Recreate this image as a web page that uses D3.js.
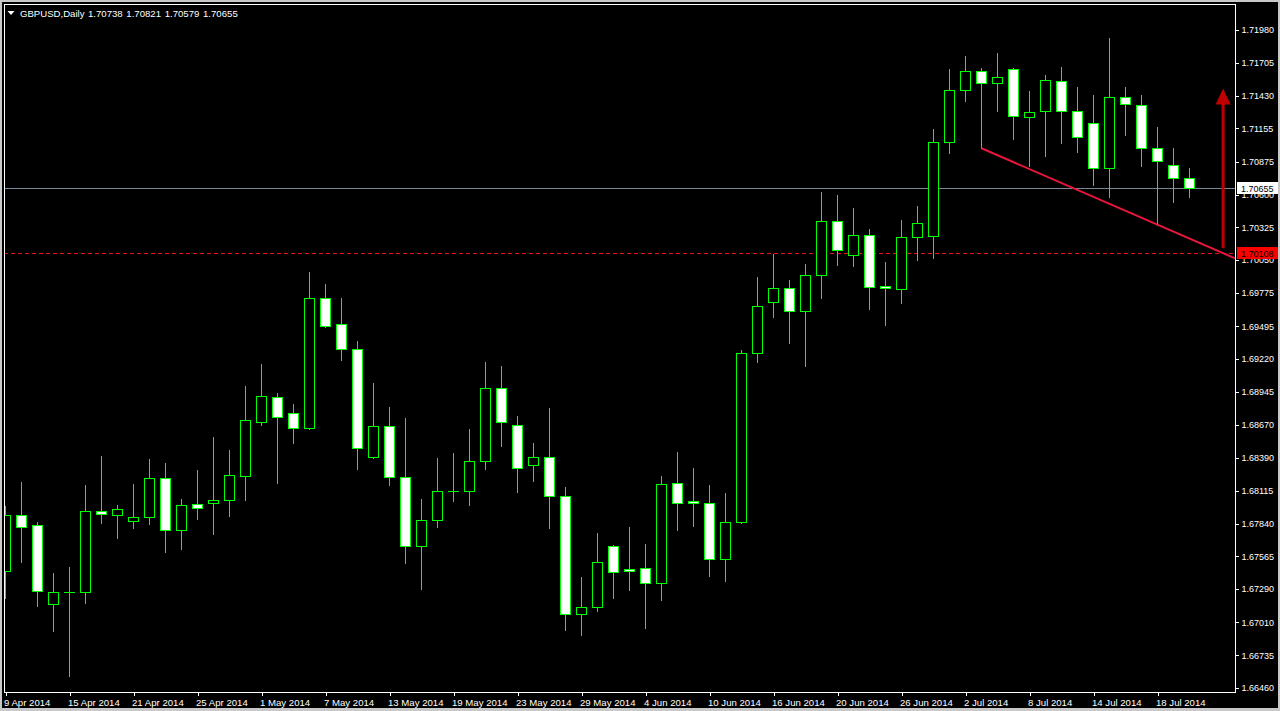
<!DOCTYPE html>
<html><head><meta charset="utf-8">
<script src="https://cdn.jsdelivr.net/npm/d3@7"></script>
<style>
html,body{margin:0;padding:0;background:#000;overflow:hidden}
svg{display:block}
text{font-family:"Liberation Sans",Arial,sans-serif;font-size:9px;fill:#fff}
</style>
</head><body><svg id="c" width="1280" height="711"></svg>
<script>
const symbolTitle = "GBPUSD,Daily";
const dates = [
"2014-04-09","2014-04-10","2014-04-11","2014-04-14","2014-04-15","2014-04-16","2014-04-17","2014-04-18","2014-04-21","2014-04-22","2014-04-23","2014-04-24","2014-04-25","2014-04-28","2014-04-29","2014-04-30",
"2014-05-01","2014-05-02","2014-05-05","2014-05-06","2014-05-07","2014-05-08","2014-05-09","2014-05-12","2014-05-13","2014-05-14","2014-05-15","2014-05-16","2014-05-19","2014-05-20","2014-05-21","2014-05-22","2014-05-23","2014-05-26","2014-05-27","2014-05-28","2014-05-29","2014-05-30",
"2014-06-02","2014-06-03","2014-06-04","2014-06-05","2014-06-06","2014-06-09","2014-06-10","2014-06-11","2014-06-12","2014-06-13","2014-06-16","2014-06-17","2014-06-18","2014-06-19","2014-06-20","2014-06-23","2014-06-24","2014-06-25","2014-06-26","2014-06-27","2014-06-30",
"2014-07-01","2014-07-02","2014-07-03","2014-07-04","2014-07-07","2014-07-08","2014-07-09","2014-07-10","2014-07-11","2014-07-14","2014-07-15","2014-07-16","2014-07-17","2014-07-18","2014-07-21","2014-07-22"];
const open = [1.67444,1.67909,1.67825,1.67167,1.67265,1.67263,1.67942,1.67909,1.67858,1.67892,1.68219,1.67783,1.68001,1.68010,1.68041,1.68241,1.68694,1.68899,1.68765,1.68644,1.69729,1.69511,1.69301,1.68400,1.68655,1.68228,1.67649,1.67867,1.68114,1.68110,1.68362,1.68974,1.68664,1.68328,1.68395,1.68068,1.67078,1.67137,1.67649,1.67456,1.67464,1.67338,1.68177,1.68026,1.68010,1.67540,1.67851,1.69268,1.69701,1.69814,1.69626,1.69921,1.70376,1.70095,1.70258,1.69830,1.69805,1.70241,1.70250,1.71038,1.71475,1.71634,1.71533,1.71651,1.71248,1.71298,1.71550,1.71298,1.71198,1.70820,1.71416,1.71349,1.70988,1.70845,1.70738];
const high = [1.67987,1.68188,1.67853,1.67422,1.67475,1.68163,1.68406,1.67995,1.68171,1.68381,1.68348,1.68046,1.68289,1.68566,1.68457,1.68994,1.69178,1.68935,1.68843,1.69950,1.69849,1.69732,1.69371,1.69019,1.68817,1.68725,1.68046,1.68390,1.68431,1.68633,1.69195,1.69161,1.68742,1.68515,1.68809,1.68146,1.67391,1.67760,1.67660,1.67811,1.67668,1.68239,1.68440,1.68306,1.68163,1.68096,1.69296,1.69908,1.70104,1.69883,1.70017,1.70621,1.70596,1.70487,1.70311,1.70034,1.70387,1.70504,1.71150,1.71653,1.71762,1.71662,1.71788,1.71662,1.71469,1.71603,1.71670,1.71502,1.71435,1.71913,1.71502,1.71435,1.71167,1.70991,1.70821];
const low = [1.67218,1.67517,1.67150,1.66941,1.66563,1.67176,1.67847,1.67721,1.67805,1.67838,1.67603,1.67629,1.67880,1.67754,1.67903,1.68037,1.68666,1.68182,1.68518,1.68635,1.69491,1.69214,1.68300,1.68392,1.68166,1.67511,1.67293,1.67813,1.68031,1.67998,1.68300,1.68493,1.68107,1.68199,1.67805,1.66949,1.66907,1.67108,1.67218,1.67285,1.66966,1.67198,1.67788,1.67822,1.67402,1.67360,1.67842,1.69198,1.69575,1.69357,1.69164,1.69735,1.70012,1.70003,1.69642,1.69508,1.69693,1.70054,1.70070,1.70951,1.71387,1.70988,1.71304,1.71069,1.70842,1.70926,1.71035,1.70960,1.70683,1.70582,1.71102,1.70842,1.70347,1.70540,1.70579];
const close = [1.67909,1.67813,1.67276,1.67263,1.67266,1.67942,1.67920,1.67959,1.67892,1.68219,1.67783,1.67993,1.67974,1.68035,1.68244,1.68706,1.68907,1.68731,1.68644,1.69729,1.69499,1.69306,1.68471,1.68655,1.68228,1.67649,1.67867,1.68110,1.68116,1.68362,1.68974,1.68689,1.68303,1.68395,1.68068,1.67078,1.67137,1.67515,1.67431,1.67439,1.67338,1.68169,1.68010,1.68010,1.67540,1.67850,1.69268,1.69663,1.69814,1.69626,1.69923,1.70376,1.70137,1.70258,1.69827,1.69814,1.70241,1.70359,1.71038,1.71475,1.71634,1.71533,1.71584,1.71257,1.71290,1.71559,1.71298,1.71085,1.70820,1.71416,1.71357,1.70988,1.70879,1.70736,1.70655];
const yTickLabels = ["1.71980","1.71705","1.71430","1.71155","1.70875","1.70600","1.70325","1.70050","1.69775","1.69495","1.69220","1.68945","1.68670","1.68390","1.68115","1.67840","1.67565","1.67290","1.67010","1.66735","1.66460"];
const dateTickIndex = [0,4,8,12,16,20,24,28,32,36,40,44,48,52,56,60,64,68,72];
const currentPrice = 1.70655;
const hLinePrice = 1.70108;
const trendAnchors = [61, 72];
const arrowBar = 76.1, arrowFrom = 1.70150, arrowTo = 1.71490;

const L = 4, T = 4, R = 1235, B = 692;
const svg = d3.select("#c");
const x = d3.scaleLinear().domain([0, 74]).range([5.5, 1189.5]);
const y = d3.scaleLinear().domain([1.66460, 1.71980]).range([688, 30.0]);
const parse = d3.timeParse("%Y-%m-%d"), fmt = d3.timeFormat("%-d %b %Y");
const f5 = d3.format(".5f");

// window frame
svg.append("rect").attr("width", 1280).attr("height", 711).attr("fill", "#c8c8c8");
svg.append("rect").attr("x", 2).attr("y", 2).attr("width", 1276).attr("height", 706).attr("fill", "#000");

svg.append("defs").append("clipPath").attr("id", "clip")
  .append("rect").attr("x", L + 1).attr("y", T + 1).attr("width", R - L - 1).attr("height", B - T - 1);

const plot = svg.append("g").attr("clip-path", "url(#clip)");
const green = "#00ff00";

// current price line
const cy = Math.round(y(currentPrice)) + 0.5;
plot.append("line").attr("x1", L).attr("x2", R).attr("y1", cy).attr("y2", cy)
  .attr("stroke", "#778899").attr("stroke-width", 1).attr("shape-rendering", "crispEdges");
// horizontal dashed line
const hy = Math.round(y(hLinePrice)) + 0.5;
plot.append("line").attr("x1", L).attr("x2", R).attr("y1", hy).attr("y2", hy)
  .attr("stroke", "#e81010").attr("stroke-dasharray", "4,3").attr("stroke-width", 1).attr("shape-rendering", "crispEdges");

// candles
const idx = d3.range(open.length);
const cg = plot.append("g").attr("shape-rendering", "crispEdges");
idx.forEach(i => {
  const cx = x(i);
  const yh = Math.round(y(high[i])), yl = Math.round(y(low[i]));
  cg.append("line").attr("x1", cx).attr("x2", cx).attr("y1", yh).attr("y2", yl + 1)
    .attr("stroke", green).attr("stroke-width", 1);
  const top = Math.round(y(Math.max(open[i], close[i])));
  const bot = Math.round(y(Math.min(open[i], close[i])));
  const bear = close[i] < open[i];
  if (bot - top < 1) {
    cg.append("line").attr("x1", cx - 5.5).attr("x2", cx + 5.5).attr("y1", top + 0.5).attr("y2", top + 0.5)
      .attr("stroke", green).attr("stroke-width", 1);
  } else {
    cg.append("rect").attr("x", cx - 5).attr("y", top + 0.5).attr("width", 10).attr("height", bot - top)
      .attr("fill", bear ? "#fff" : "#000").attr("stroke", green).attr("stroke-width", 1);
  }
});

// trend line through two lows, extended to the right edge
const p1 = [x(trendAnchors[0]), y(low[trendAnchors[0]])];
const p2 = [x(trendAnchors[1]), y(low[trendAnchors[1]])];
const t = (R - p1[0]) / (p2[0] - p1[0]);
plot.append("line").attr("x1", p1[0]).attr("y1", p1[1])
  .attr("x2", p1[0] + t * (p2[0] - p1[0])).attr("y2", p1[1] + t * (p2[1] - p1[1]))
  .attr("stroke", "#e8163c").attr("stroke-width", 2);

// arrow
const ax = x(arrowBar), ayTip = y(arrowTo), ayBase = y(arrowFrom);
plot.append("line").attr("x1", ax).attr("x2", ax).attr("y1", ayBase).attr("y2", ayTip + 14)
  .attr("stroke", "#c00000").attr("stroke-width", 3);
plot.append("path").attr("d", `M${ax},${ayTip} L${ax - 7.5},${ayTip + 16} L${ax + 7.5},${ayTip + 16} Z`)
  .attr("fill", "#c00000");

// frame border
svg.append("rect").attr("x", L + 0.5).attr("y", T + 0.5).attr("width", R - L).attr("height", B - T)
  .attr("fill", "none").attr("stroke", "#fff").attr("stroke-width", 1).attr("shape-rendering", "crispEdges");

// right price axis
const yAxis = d3.axisRight(y).tickValues(yTickLabels.map(Number)).tickFormat(f5).tickSize(3).tickPadding(3);
const gy = svg.append("g").attr("transform", `translate(${R + 0.5},0)`).call(yAxis);
gy.select(".domain").remove();
gy.selectAll("line").attr("stroke", "#fff").attr("shape-rendering", "crispEdges");
gy.selectAll("text").attr("fill", "#fff").style("font-size", "9px").attr("font-family", null);

// bottom date axis
const xAxis = d3.axisBottom(x).tickValues(dateTickIndex).tickFormat(i => fmt(parse(dates[i]))).tickSize(3).tickPadding(4);
const gx = svg.append("g").attr("transform", `translate(0,${B + 0.5})`).call(xAxis);
gx.select(".domain").remove();
gx.selectAll("line").attr("stroke", "#fff").attr("shape-rendering", "crispEdges");
gx.selectAll("text").attr("fill", "#fff").attr("text-anchor", "start").attr("dx", -2).style("font-size", "9.6px").attr("font-family", null);

// price labels on axis
function priceTag(p, bg) {
  const py = Math.round(y(p));
  svg.append("rect").attr("x", R + 2).attr("y", py - 6).attr("width", 41).attr("height", 12).attr("fill", bg);
  svg.append("text").attr("x", R + 6).attr("y", py + 3.5).style("fill", "#000").text(f5(p));
}
priceTag(currentPrice, "#fff");
priceTag(hLinePrice, "#ff0000");

// title
svg.append("path").attr("d", "M7.5,11 L14.5,11 L11,15 Z").attr("fill", "#fff");
svg.append("text").attr("x", 20).attr("y", 17).style("font-size", "9.6px")
  .text(symbolTitle);
svg.append("text").attr("x", 88).attr("y", 17).style("font-size", "9.6px").attr("word-spacing", "1px")
  .text(`${f5(open[74])} ${f5(high[74])} ${f5(low[74])} ${f5(close[74])}`);
</script>
</body></html>
